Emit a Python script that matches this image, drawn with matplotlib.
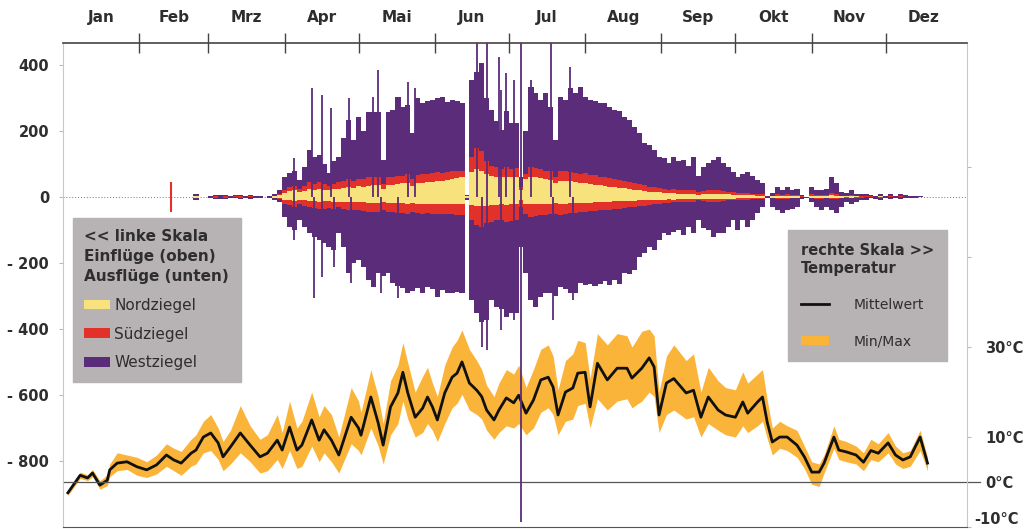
import numpy as np
import matplotlib.pyplot as plt
import matplotlib.transforms as mtransforms
from matplotlib.patches import Patch
from matplotlib.lines import Line2D

plt.rcParams["font.family"] = ["DejaVu Sans"]

# ── Month axis ─────────────────────────────────────────────────────
MONTHS = ["Jan", "Feb", "Mrz", "Apr", "Mai", "Jun", "Jul", "Aug", "Sep", "Okt", "Nov", "Dez"]
MONTH_START = [0, 31, 59, 90, 120, 151, 181, 212, 243, 273, 304, 334, 365]

# ── Bee flights, 2-day bins (day of year) ──────────────────────────
BEE_DAY = list(range(52, 351, 2))

WEST_IN = [
    0, 8, 0, 0, 3, 6, 5, 6, 3, 5,
    6, 4, 5, 2, 3, 1, 2, 10, 20, 60,
    73, 80, 52, 90, 142, 120, 127, 100, 73, 110,
    121, 179, 233, 173, 242, 200, 258, 258, 258, 112,
    258, 264, 303, 273, 280, 194, 300, 285, 290, 294,
    300, 303, 288, 294, 290, 285, 5, 355, 380, 406,
    300, 264, 230, 203, 260, 224, 224, 60, 200, 333,
    315, 294, 315, 273, 173, 303, 294, 330, 315, 333,
    303, 294, 290, 285, 285, 273, 264, 260, 242, 233,
    212, 194, 164, 158, 142, 121, 118, 103, 120, 110,
    112, 95, 121, 65, 91, 103, 112, 121, 103, 91,
    76, 61, 70, 76, 65, 52, 42, 2, 12, 30,
    21, 30, 21, 25, 6, 0, 30, 21, 21, 25,
    61, 42, 15, 12, 21, 10, 10, 8, 6, 4,
    10, 4, 8, 3, 8, 5, 3, 4, 2, 0,
]
WEST_OUT = [
    0, -8, 0, 0, -3, -5, -6, -5, -3, -4,
    -5, -4, -6, -2, -3, -1, -2, -8, -15, -60,
    -91, -100, -70, -90, -109, -120, -130, -140, -152, -160,
    -109, -152, -230, -200, -191, -212, -251, -273, -230, -240,
    -230, -261, -270, -276, -291, -285, -276, -291, -273, -280,
    -303, -282, -290, -291, -288, -291, -10, -312, -352, -380,
    -373, -312, -333, -340, -364, -352, -352, -152, -230, -312,
    -333, -303, -291, -291, -300, -273, -280, -291, -290, -261,
    -265, -262, -270, -262, -255, -268, -252, -262, -230, -232,
    -221, -182, -170, -152, -161, -130, -109, -115, -105, -100,
    -115, -91, -109, -70, -95, -100, -121, -109, -109, -91,
    -70, -100, -70, -91, -70, -48, -30, -2, -30, -39,
    -48, -39, -35, -30, -5, -3, -15, -30, -39, -30,
    -39, -48, -30, -15, -22, -15, -10, -8, -3, -5,
    -8, -3, -6, -2, -6, -4, -2, -3, -1, 0,
]
SUED_IN = [
    0, 0, 0, 0, 0, 2, 0, 2, 0, 2,
    2, 0, 2, 0, 0, 0, 0, 4, 8, 20,
    30, 35, 25, 35, 45, 40, 45, 40, 35, 40,
    45, 50, 55, 50, 55, 55, 60, 60, 62, 40,
    62, 60, 65, 65, 70, 55, 68, 70, 70, 72,
    75, 72, 75, 78, 80, 80, 3, 120, 150, 140,
    110, 95, 90, 85, 90, 85, 88, 30, 70, 91,
    88, 85, 80, 78, 60, 78, 80, 75, 72, 70,
    72, 68, 66, 62, 60, 58, 55, 52, 50, 45,
    42, 40, 36, 32, 30, 28, 25, 22, 25, 22,
    22, 20, 22, 15, 18, 20, 20, 22, 18, 16,
    14, 12, 12, 12, 10, 8, 8, 0, 4, 8,
    6, 8, 6, 6, 2, 0, 8, 6, 6, 6,
    12, 10, 4, 4, 6, 3, 3, 2, 2, 1,
    3, 1, 2, 1, 2, 1, 1, 1, 0, 0,
]
SUED_OUT = [
    0, 0, 0, 0, 0, -2, 0, -2, 0, -1,
    -2, 0, -1, 0, 0, 0, 0, -3, -6, -20,
    -25, -30, -22, -28, -30, -32, -35, -35, -32, -35,
    -30, -35, -40, -38, -40, -42, -45, -45, -45, -40,
    -45, -45, -48, -48, -50, -45, -48, -50, -48, -52,
    -52, -50, -50, -52, -55, -55, -3, -70, -85, -91,
    -80, -75, -70, -70, -75, -72, -70, -30, -50, -60,
    -58, -55, -55, -52, -50, -55, -50, -48, -48, -45,
    -45, -42, -42, -40, -38, -38, -35, -35, -32, -30,
    -30, -28, -26, -24, -22, -20, -18, -18, -16, -15,
    -15, -14, -15, -10, -12, -14, -14, -15, -12, -10,
    -10, -8, -8, -8, -6, -5, -5, 0, -4, -5,
    -5, -5, -4, -4, -1, 0, -4, -5, -5, -4,
    -6, -6, -3, -3, -4, -2, -2, -1, -1, -1,
    -2, -1, -1, -1, -1, -1, 0, 0, 0, 0,
]
NORD_IN = [
    0, 3, 0, 0, 0, 0, 0, 0, 0, 0,
    0, 0, 0, 0, 0, 0, 0, 2, 5, 12,
    18, 20, 15, 18, 25, 22, 25, 22, 20, 24,
    25, 28, 32, 28, 33, 30, 35, 36, 38, 25,
    38, 38, 40, 42, 44, 35, 42, 44, 45, 46,
    48, 50, 52, 55, 58, 60, 2, 75, 85, 80,
    70, 65, 62, 60, 62, 60, 62, 20, 55, 62,
    60, 58, 56, 52, 42, 50, 50, 48, 45, 44,
    42, 40, 38, 36, 34, 32, 30, 28, 26, 24,
    22, 20, 18, 16, 15, 14, 12, 11, 12, 10,
    10, 9, 10, 7, 8, 9, 9, 10, 8, 8,
    7, 6, 6, 6, 5, 4, 4, 0, 2, 4,
    3, 4, 3, 3, 1, 0, 4, 3, 3, 3,
    5, 4, 2, 2, 3, 2, 1, 1, 1, 1,
    2, 1, 1, 0, 1, 1, 0, 0, 0, 0,
]
NORD_OUT = [
    0, -2, 0, 0, 0, 0, 0, 0, 0, 0,
    0, 0, 0, 0, 0, 0, 0, -2, -4, -8,
    -10, -12, -9, -10, -12, -12, -14, -13, -12, -14,
    -14, -15, -16, -15, -16, -16, -18, -18, -18, -14,
    -18, -18, -19, -19, -20, -17, -20, -20, -20, -21,
    -21, -21, -22, -22, -22, -22, -2, -25, -28, -28,
    -26, -24, -24, -22, -24, -22, -22, -10, -20, -22,
    -22, -21, -20, -20, -18, -20, -20, -19, -18, -18,
    -18, -17, -16, -15, -15, -14, -13, -13, -12, -12,
    -11, -10, -10, -9, -9, -8, -8, -7, -8, -7,
    -7, -6, -7, -5, -6, -6, -6, -7, -6, -5,
    -5, -4, -4, -4, -4, -3, -3, 0, -2, -3,
    -3, -3, -2, -2, -1, 0, -3, -2, -2, -2,
    -3, -3, -2, -1, -2, -1, -1, -1, 0, 0,
    -1, 0, -1, 0, 0, 0, 0, 0, 0, 0,
]

# single-day peaks (Westziegel)
WEST_PEAK_IN_DAY = [94, 101, 105, 109, 116, 126, 128, 140, 143, 168, 172, 177, 178, 180, 183, 186, 190, 198, 206]
WEST_PEAK_IN = [118, 330, 309, 270, 300, 303, 385, 348, 330, 480, 480, 424, 324, 376, 355, 480, 355, 480, 394]
WEST_PEAK_OUT_DAY = [94, 102, 105, 110, 117, 129, 136, 170, 172, 178, 183, 186, 199, 207]
WEST_PEAK_OUT = [-130, -306, -242, -212, -261, -291, -306, -455, -464, -403, -373, -985, -373, -312]
# single-day peak (Südziegel)
SUED_PEAK_DAY = [44]
SUED_PEAK_IN = [45]
SUED_PEAK_OUT = [-45]

# ── Temperature (°C) ───────────────────────────────────────────────
T_DAY = [2, 7, 10, 12, 15, 18, 19, 22, 26, 30, 34, 38, 42, 45, 48, 52, 54, 57, 60, 63,
         65, 68, 72, 76, 80, 83, 87, 89, 92, 95, 97, 101, 104, 106, 109, 112, 117, 120, 121, 125,
         128, 130, 133, 136, 138, 140, 143, 146, 148, 150, 152, 155, 158, 160, 162, 165, 168, 170, 172, 175,
         177, 180, 183, 185, 188, 191, 194, 197, 199, 201, 204, 207, 209, 212, 214, 217, 221, 225, 229, 231,
         235, 238, 240, 242, 245, 248, 253, 256, 259, 262, 266, 269, 273, 276, 278, 282, 284, 286, 288, 291,
         294, 298, 301, 304, 307, 309, 313, 315, 318, 322, 325, 328, 331, 335, 338, 341, 344, 348, 351]
T_MEAN = [-2.4, 1.5, 0.9, 2.0, -0.7, 0.4, 2.7, 4.2, 4.5, 3.4, 2.7, 3.8, 6.0, 4.9, 4.2, 6.4, 7.1, 10.0, 10.9, 8.7,
          5.6, 7.8, 10.9, 8.2, 5.6, 6.4, 9.3, 7.1, 12.2, 7.1, 8.2, 13.8, 9.3, 11.6, 9.3, 6.0, 14.4, 12.0, 10.4, 18.9,
          13.1, 8.2, 16.7, 19.8, 24.4, 19.8, 14.4, 16.4, 18.9, 16.7, 13.8, 19.8, 23.3, 24.2, 26.7, 22.0, 20.4, 19.0, 16.0, 13.8,
          16.0, 18.7, 17.6, 19.3, 15.3, 18.2, 22.7, 23.3, 21.1, 14.9, 20.0, 20.9, 24.2, 24.4, 16.7, 26.4, 22.7, 25.3, 25.3, 23.1,
          25.3, 27.6, 25.6, 14.9, 22.0, 23.0, 19.8, 20.4, 14.4, 18.9, 16.0, 14.9, 14.4, 17.8, 15.3, 17.8, 18.9, 13.1, 8.9, 10.0,
          10.0, 8.2, 5.6, 2.2, 2.2, 4.2, 10.0, 7.1, 6.7, 6.0, 4.4, 7.0, 6.4, 8.7, 6.0, 4.9, 5.6, 10.0, 4.2]
T_MIN = [-3.0, 0.8, 0.3, 1.2, -1.6, -0.8, 1.2, 2.5, 2.8, 1.5, 1.0, 1.8, 3.5, 2.5, 1.5, 3.5, 4.0, 6.5, 7.0, 5.0,
         2.5, 4.0, 6.5, 4.5, 2.0, 2.5, 5.0, 3.0, 7.0, 3.0, 3.5, 8.0, 4.5, 6.5, 4.5, 2.0, 8.5, 7.0, 6.0, 12.0,
         8.0, 4.0, 10.5, 13.0, 18.0, 14.0, 10.0, 11.0, 13.0, 11.5, 9.0, 13.0, 16.5, 17.5, 19.5, 16.0, 15.0, 14.0, 11.5, 9.5,
         11.0, 12.5, 12.0, 13.0, 10.5, 12.0, 15.5, 16.5, 15.0, 10.5, 13.5, 14.0, 17.0, 17.5, 12.0, 18.5, 16.0, 18.0, 18.5, 16.5,
         18.0, 20.0, 19.0, 11.0, 15.0, 16.0, 14.0, 14.5, 10.0, 13.0, 11.5, 10.5, 10.0, 12.5, 11.0, 12.5, 13.5, 9.5, 6.0, 7.5,
         7.0, 5.5, 3.0, -0.5, -1.0, 2.0, 7.5, 5.0, 4.5, 4.0, 2.5, 5.0, 4.5, 6.5, 4.0, 3.0, 3.5, 7.0, 2.5]
T_MAX = [-1.8, 2.2, 1.6, 2.8, 0.3, 1.6, 4.0, 6.5, 6.0, 5.5, 4.5, 6.0, 8.5, 7.5, 6.8, 9.5, 10.5, 13.5, 15.0, 12.0,
         9.0, 11.5, 17.0, 12.5, 9.5, 10.5, 15.0, 11.0, 18.0, 12.0, 13.5, 20.0, 14.5, 17.0, 15.0, 10.0, 21.0, 18.0, 15.5, 25.0,
         19.0, 13.0, 22.5, 26.0, 31.0, 26.5, 20.0, 23.5, 25.5, 22.0, 19.0, 26.0, 30.0, 31.5, 33.8, 29.5, 27.0, 25.0, 21.5, 19.0,
         22.0, 25.0, 24.0, 26.0, 21.0, 25.0, 29.5, 30.5, 28.0, 20.5, 27.0, 28.5, 31.5, 31.0, 23.0, 33.0, 30.5, 33.0, 32.5, 30.0,
         33.5, 34.0, 32.5, 20.0, 28.0, 30.5, 27.0, 28.5, 20.0, 25.5, 22.5, 21.0, 20.5, 24.5, 22.0, 24.0, 25.0, 18.0, 12.0, 13.5,
         12.5, 11.5, 8.0, 4.5, 4.0, 6.0, 12.5, 9.5, 9.0, 8.0, 6.5, 9.5, 8.5, 11.0, 8.0, 6.5, 7.0, 11.5, 5.5]

C_WEST = "#5b2c7a"
C_SUED = "#e2312b"
C_NORD = "#f8e27e"
C_BAND = "#fbb43a"
C_BOX = "#b7b2b3"
C_TEXT = "#2e2e2e"

fig = plt.figure(figsize=(10.27, 5.29), dpi=100)
ax = fig.add_axes([0.0613, 0.0038, 0.8802, 0.9149])
ax2 = ax.twinx()

# temperature (right scale)
ax2.fill_between(T_DAY, T_MIN, T_MAX, color=C_BAND, linewidth=0)
ax2.plot(T_DAY, T_MEAN, color="#111111", linewidth=2.0)
ax2.axhline(0, xmin=0, xmax=1.014, color="#555555", linewidth=0.9, clip_on=False)
ax2.set_ylim(-10, 97.6)
ax2.set_yticks([-10, 0, 10, 30, 50, 70])
ax2.set_yticklabels(["-10°C", "0°C", "10°C", "30°C", "", ""], fontsize=10.5,
                    fontweight="bold", color=C_TEXT)
ax2.tick_params(axis="y", length=3, color="#bbbbbb", pad=10)
shift_left = mtransforms.ScaledTranslation(-8 / 72, 0, fig.dpi_scale_trans)
for lbl in ax2.get_yticklabels():
    if lbl.get_text() == "-10°C":
        lbl.set_verticalalignment("bottom")
        lbl.set_transform(lbl.get_transform() + shift_left)
for side in ["top", "left", "bottom"]:
    ax2.spines[side].set_visible(False)
ax2.spines["right"].set_color("#c8c8c8")

# bee flights (left scale), drawn above the temperature
ax.set_zorder(ax2.get_zorder() + 1)
ax.patch.set_visible(False)
for vin, vout, col in [(WEST_IN, WEST_OUT, C_WEST), (SUED_IN, SUED_OUT, C_SUED),
                       (NORD_IN, NORD_OUT, C_NORD)]:
    ax.bar(BEE_DAY, vin, width=2.1, color=col, linewidth=0)
    ax.bar(BEE_DAY, vout, width=2.1, color=col, linewidth=0)
ax.vlines(WEST_PEAK_IN_DAY, 0, WEST_PEAK_IN, color=C_WEST, linewidth=1.3)
ax.vlines(WEST_PEAK_OUT_DAY, 0, WEST_PEAK_OUT, color=C_WEST, linewidth=1.3)
ax.vlines(SUED_PEAK_DAY, SUED_PEAK_OUT, SUED_PEAK_IN, color=C_SUED, linewidth=1.5)
ax.axhline(0, color="#777777", linewidth=0.7, linestyle=(0, (1, 2)), zorder=0.5)

ax.set_xlim(0, 367)
ax.set_ylim(-1000, 467)
ax.set_yticks([400, 200, 0, -200, -400, -600, -800])
ax.set_yticklabels(["400", "200", "0", "- 200", "- 400", "- 600", "- 800"],
                   fontsize=10.5, fontweight="bold", color=C_TEXT)
ax.tick_params(axis="y", length=3, color="#bbbbbb", pad=7)

# month ticks on top
ax.xaxis.tick_top()
ax.set_xticks(MONTH_START[1:-1])
ax.set_xticklabels([])
mids = [(a + b) / 2 for a, b in zip(MONTH_START[:-1], MONTH_START[1:])]
ax.set_xticks(mids, minor=True)
ax.set_xticklabels(MONTHS, minor=True, fontsize=11, fontweight="bold", color=C_TEXT)
ax.tick_params(axis="x", which="major", direction="inout", length=14, width=1,
               color="#444444", top=True, bottom=False)
ax.tick_params(axis="x", which="minor", length=0, pad=13, top=True, bottom=False)

ax.spines["top"].set_color("#444444")
ax.spines["top"].set_linewidth(1.2)
ax.spines["bottom"].set_color("#555555")
ax.spines["left"].set_color("#c8c8c8")
ax.spines["right"].set_visible(False)

# legends
leg1 = ax.legend(
    [Patch(facecolor=C_NORD), Patch(facecolor=C_SUED), Patch(facecolor=C_WEST)],
    ["Nordziegel", "Südziegel", "Westziegel"],
    title="<< linke Skala\nEinflüge (oben)\nAusflüge (unten)",
    title_fontproperties={"weight": "bold", "size": 11}, alignment="left",
    loc="upper left", bbox_to_anchor=(0.0711, 0.588), bbox_transform=fig.transFigure,
    fontsize=11, facecolor=C_BOX, edgecolor=C_BOX, framealpha=1, fancybox=False,
    handlelength=1.7, handleheight=0.6, handletextpad=0.25, labelspacing=0.9,
    borderpad=0.75, borderaxespad=0)
leg1.get_title().set_linespacing(1.4)
for t in leg1.get_texts() + [leg1.get_title()]:
    t.set_color(C_TEXT)
ax.add_artist(leg1)

leg2 = ax.legend(
    [Line2D([], [], color="#111111", linewidth=2), Patch(facecolor=C_BAND)],
    ["Mittelwert", "Min/Max"],
    title="rechte Skala >>\nTemperatur",
    title_fontproperties={"weight": "bold", "size": 10.5}, alignment="left",
    loc="upper left", bbox_to_anchor=(0.767, 0.565), bbox_transform=fig.transFigure,
    fontsize=10, facecolor=C_BOX, edgecolor=C_BOX, framealpha=1, fancybox=False,
    handlelength=2.0, handleheight=0.6, handletextpad=1.8, labelspacing=1.6,
    borderpad=0.95, borderaxespad=0)
for t in leg2.get_texts() + [leg2.get_title()]:
    t.set_color(C_TEXT)

fig.savefig("out.png", dpi=100)
